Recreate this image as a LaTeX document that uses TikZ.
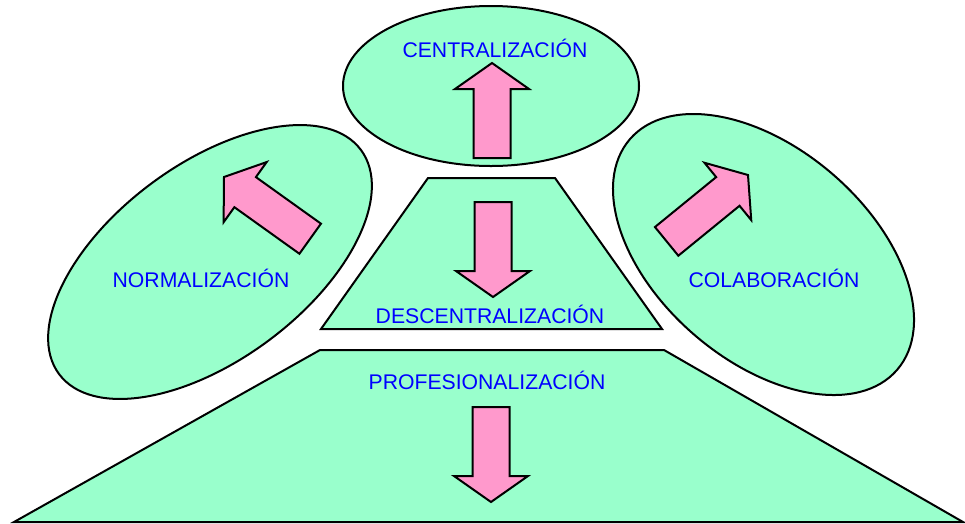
\documentclass[tikz,border=0pt]{standalone}
\usepackage{fontspec}
\setmainfont{Liberation Sans}
\usetikzlibrary{shapes.geometric}
\definecolor{mint}{RGB}{153,255,204}
\definecolor{pinkarrow}{RGB}{255,153,204}
\definecolor{labelblue}{RGB}{0,0,255}
\tikzset{
  region/.style={draw=black, fill=mint, line width=2pt, line join=miter},
  oval/.style={region, ellipse, inner sep=0pt, outer sep=0pt},
  arrowbody/.style={draw=black, fill=pinkarrow, line width=2pt, line join=miter},
  label/.style={text=labelblue, anchor=base, inner sep=0pt, font=\fontsize{21.2}{25}\selectfont},
  pics/barrow/.style={code={
    \draw[arrowbody] (0,0) -- (-26,37) -- (-26,18.5) -- (-#1,18.5) -- (-#1,-18.5)
      -- (-26,-18.5) -- (-26,-37) -- cycle;}}
}
\begin{document}
\begin{tikzpicture}[x=1pt,y=-1pt]
\useasboundingbox (0,0) rectangle (965,523);
% ellipses
\node[oval, minimum width=296pt, minimum height=160pt] (cent) at (491,86) {};
\node[oval, minimum width=376pt, minimum height=196pt, rotate=36.6] (norm) at (210,262) {};
\node[oval, minimum width=353pt, minimum height=212pt, rotate=-40.8] (cola) at (763.5,254.5) {};
% trapezoids
\draw[region] (428,178) coordinate (dtl) -- (555,178) -- (662,329) -- (321,329) -- cycle;
\draw[region] (320,350) coordinate (ptl) -- (664,350) -- (963,522) -- (14,522) -- cycle;
% arrows
\pic[rotate=90] at (492,63) {barrow=95};
\pic[rotate=-90] at (493,297) {barrow=95};
\pic[rotate=-90] at (491,502) {barrow=95};
\pic[rotate=144.4] at (224,177) {barrow=106};
\pic[rotate=39.2] at (748,175) {barrow=105};
% labels
\node[label] (tcent) at (495,57) {CENTRALIZACIÓN};
\node[label] (tdesc) at (490,323) {DESCENTRALIZACIÓN};
\node[label] (tprof) at (487,389) {PROFESIONALIZACIÓN};
\node[label] (tnorm) at (201,287) {NORMALIZACIÓN};
\node[label] (tcola) at (774,287) {COLABORACIÓN};
\end{tikzpicture}
\end{document}
